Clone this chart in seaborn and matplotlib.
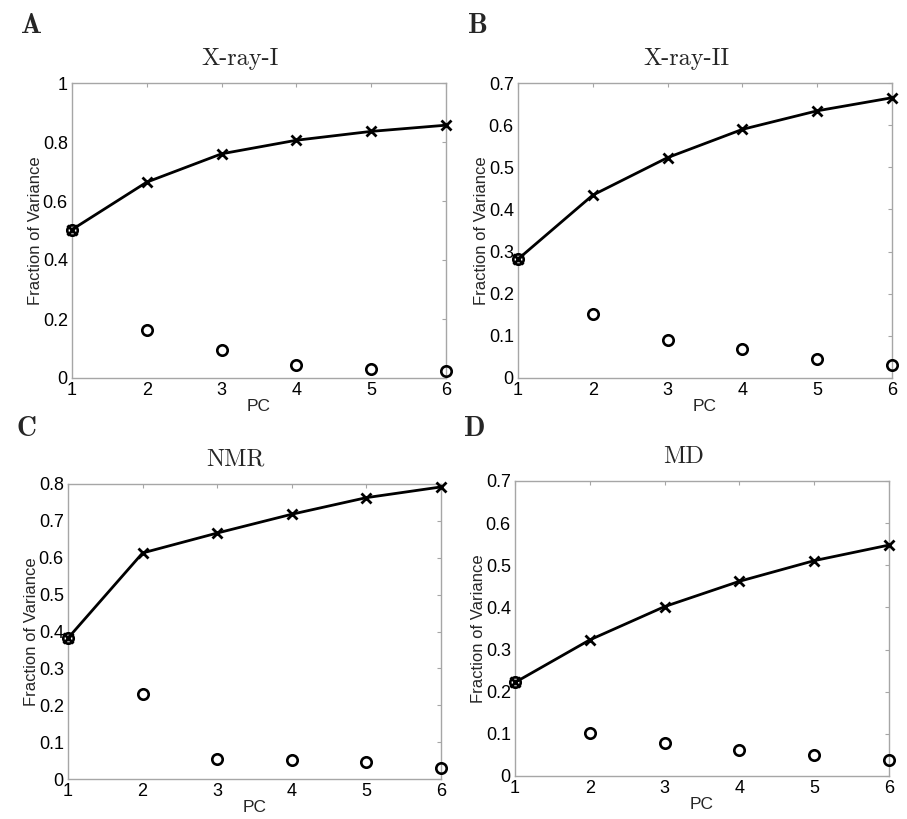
import matplotlib
matplotlib.use("Agg")
import matplotlib.pyplot as plt
import seaborn as sns
import numpy as np
import pandas as pd
from matplotlib.ticker import FuncFormatter, MultipleLocator

# ---- data ----
pcs = [1, 2, 3, 4, 5, 6]
titles = ["X-ray-I", "X-ray-II", "NMR", "MD"]
letters = ["A", "B", "C", "D"]

xray1_cum = [0.503, 0.664, 0.760, 0.806, 0.836, 0.857]
xray1_ind = [0.503, 0.162, 0.095, 0.045, 0.031, 0.023]
xray2_cum = [0.282, 0.434, 0.523, 0.590, 0.634, 0.665]
xray2_ind = [0.282, 0.153, 0.089, 0.068, 0.044, 0.032]
nmr_cum = [0.382, 0.613, 0.667, 0.718, 0.763, 0.792]
nmr_ind = [0.382, 0.231, 0.055, 0.052, 0.046, 0.029]
md_cum = [0.222, 0.323, 0.402, 0.462, 0.511, 0.548]
md_ind = [0.222, 0.103, 0.078, 0.061, 0.050, 0.038]

ymaxes = [1.0, 0.7, 0.8, 0.7]
ysteps = [0.2, 0.1, 0.1, 0.1]

series = [(xray1_cum, xray1_ind), (xray2_cum, xray2_ind),
          (nmr_cum, nmr_ind), (md_cum, md_ind)]

sns.set_theme(style="white")
plt.rcParams["font.family"] = ["Liberation Sans", "DejaVu Sans"]

W, H = 907, 819
fig = plt.figure(figsize=(W / 100, H / 100), dpi=100)

# axes boxes in pixels: left, top, right, bottom
boxes = [(72, 83, 446, 378), (518, 83, 892, 378),
         (68, 484, 441, 779), (515, 481, 889, 776)]
letter_pos = [(32, 26), (478, 26), (27, 429), (475, 429)]

spine_col = "#a6a6a6"

for i, (cum, ind) in enumerate(series):
    l, t, r, b = boxes[i]
    ax = fig.add_axes([l / W, 1 - b / H, (r - l) / W, (b - t) / H])
    df = pd.DataFrame({"PC": pcs, "cum": cum, "ind": ind})
    sns.lineplot(data=df, x="PC", y="cum", ax=ax, color="black", linewidth=2,
                 marker="x", markersize=7.5, markeredgewidth=2.0,
                 markeredgecolor="black", clip_on=False, zorder=3)
    sns.lineplot(data=df, x="PC", y="ind", ax=ax, color="black", linestyle="",
                 marker="o", markersize=7.5, markerfacecolor="none",
                 markeredgecolor="black", markeredgewidth=1.9, clip_on=False,
                 zorder=4)
    ax.set_xlim(1, 6)
    ax.set_ylim(0, ymaxes[i])
    ax.xaxis.set_major_locator(MultipleLocator(1))
    ax.yaxis.set_major_locator(MultipleLocator(ysteps[i]))
    ax.yaxis.set_major_formatter(FuncFormatter(lambda v, p: f"{v:g}"))
    ax.tick_params(direction="in", length=3, width=0.8, color=spine_col,
                   top=True, right=True, labelsize=13, labelcolor="black", pad=3)
    for s in ax.spines.values():
        s.set_color(spine_col)
        s.set_linewidth(1.0)
        s.set_visible(True)
    ax.set_xlabel("PC", fontsize=12.5, labelpad=0)
    ax.set_ylabel("Fraction of Variance", fontsize=12, labelpad=0)
    ax.set_title(titles[i], fontfamily="cmr10", fontsize=17.5, x=0.45, pad=13)
    ax.grid(False)
    lx, ly = letter_pos[i]
    fig.text(lx / W, 1 - ly / H, letters[i], fontfamily="cmb10", fontsize=20,
             ha="center", va="center")

fig.savefig("out.png", dpi=100, facecolor="white")
